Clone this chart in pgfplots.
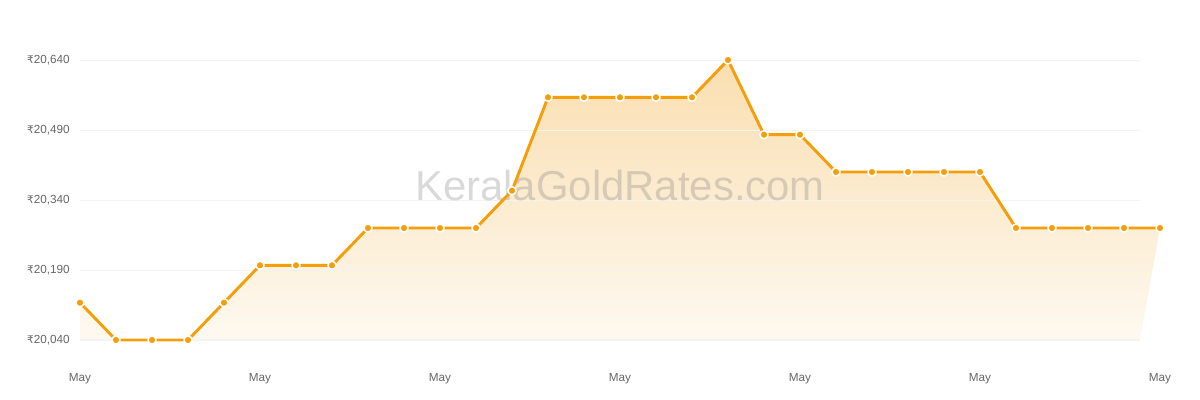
\documentclass[border=0pt]{standalone}
\usepackage{fontspec}
\setmainfont{Liberation Sans}
\newfontfamily\rupeefont{DejaVu Sans}
\newcommand{\rs}{{\rupeefont\fontsize{7.8}{10}\selectfont ₹}}
\usepackage{pgfplots}
\pgfplotsset{compat=1.18}
\definecolor{gold}{RGB}{245,158,11}
\definecolor{filltop}{RGB}{250,222,176}
\definecolor{fillbot}{RGB}{254,249,240}
\definecolor{gridc}{RGB}{243,243,243}
\definecolor{tickc}{RGB}{102,102,102}

\begin{document}
\begin{tikzpicture}
    \useasboundingbox (0,0) rectangle (900pt,300pt);

    \begin{axis}[
        at={(60pt,45pt)},
        anchor=south west,
        scale only axis,
        width=810pt,
        height=210pt,
        xmin=0, xmax=30,
        ymin=20040, ymax=20640,
        clip=false,
        scaled y ticks=false,
        axis line style={draw=none},
        tick style={draw=none},
        xtick={0,5,...,30},
        xticklabels={May,May,May,May,May,May,May},
        ytick={20040,20190,20340,20490,20640},
        yticklabels={{\rs20,040},{\rs20,190},{\rs20,340},{\rs20,490},{\rs20,640}},
        tick label style={font=\fontsize{8.8}{10}\selectfont, text=tickc},
        yticklabel style={inner sep=0pt, xshift=-7.5pt},
        xticklabel style={inner sep=0pt, yshift=-25pt},
    ]
        % area under the line
        \addplot[draw=none, top color=filltop, bottom color=fillbot] coordinates {
            (0,20120) (1,20040) (2,20040) (3,20040) (4,20120) (5,20200) (6,20200) (7,20200)
            (8,20280) (9,20280) (10,20280) (11,20280) (12,20360) (13,20560) (14,20560)
            (15,20560) (16,20560) (17,20560) (18,20640) (19,20480) (20,20480) (21,20400)
            (22,20400) (23,20400) (24,20400) (25,20400) (26,20280) (27,20280) (28,20280)
            (29,20280) (30,20280) (29.444,20040) (0,20040)
        } -- cycle;

        % grid
        \pgfplotsinvokeforeach{20040,20190,20340,20490,20640}{
            \draw[gridc, line width=0.75pt] (axis cs:0,#1) -- (axis cs:29.444,#1);
        }

        % watermark
        \node[anchor=base, text=gray, text opacity=0.3, font=\fontsize{31.4}{31}\selectfont]
            at (axis cs:15,20340) {KeralaGoldRates.com};

        % price line
        \addplot[gold, line width=2.2pt, mark=*, mark size=3pt,
            mark options={fill=gold, draw=white, line width=1.1pt}] coordinates {
            (0,20120) (1,20040) (2,20040) (3,20040) (4,20120) (5,20200) (6,20200) (7,20200)
            (8,20280) (9,20280) (10,20280) (11,20280) (12,20360) (13,20560) (14,20560)
            (15,20560) (16,20560) (17,20560) (18,20640) (19,20480) (20,20480) (21,20400)
            (22,20400) (23,20400) (24,20400) (25,20400) (26,20280) (27,20280) (28,20280)
            (29,20280) (30,20280)
        };
    \end{axis}
\end{tikzpicture}
\end{document}
